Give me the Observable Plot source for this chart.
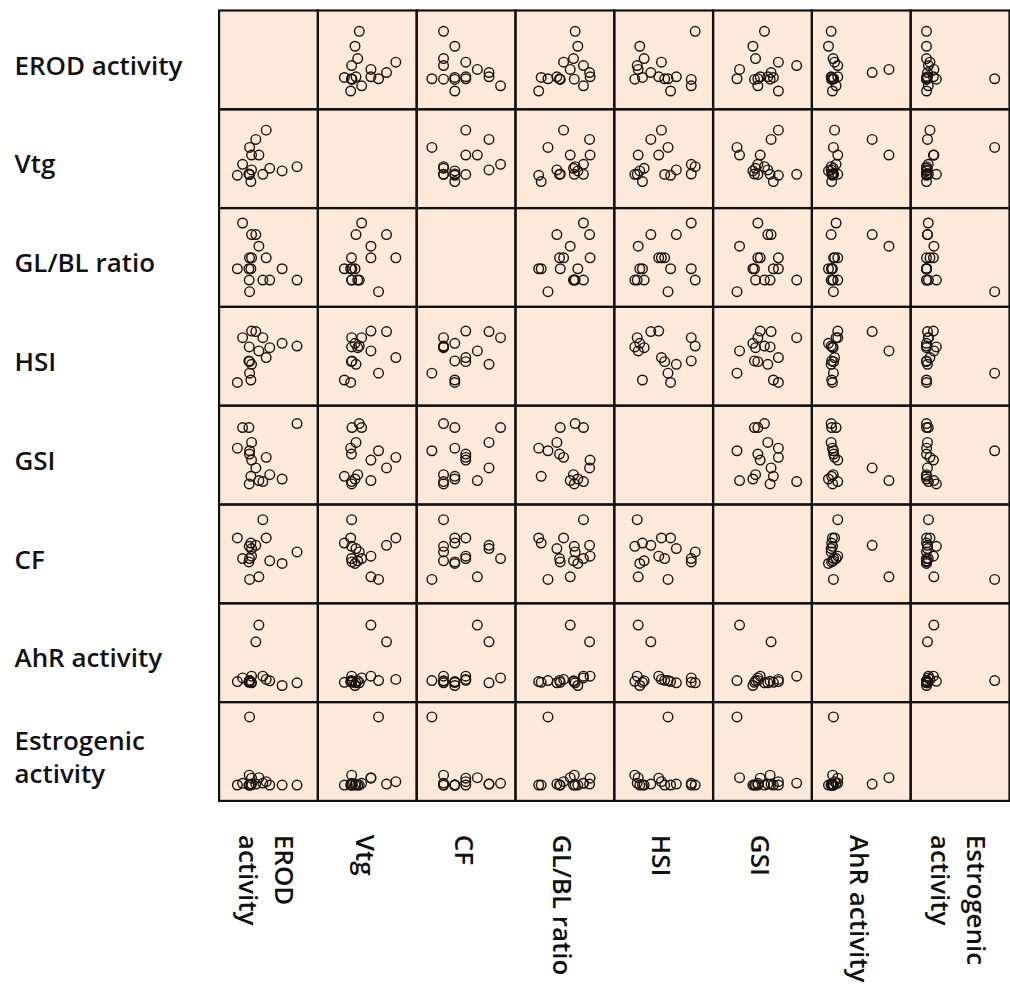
<!DOCTYPE html>
<html>
<head>
<meta charset="utf-8">
<script src="https://cdn.jsdelivr.net/npm/d3@7"></script>
<script src="https://cdn.jsdelivr.net/npm/@observablehq/plot@0.6"></script>
<style>
html, body { margin: 0; padding: 0; background: #ffffff; overflow: hidden; }
#chart { position: absolute; left: 0; top: 0; }
</style>
</head>
<body>
<div id="chart"></div>
<script>
// Labels as printed (rows on the left, columns underneath)
const rowLabels = ["EROD activity", "Vtg", "GL/BL ratio", "HSI", "GSI", "CF", "AhR activity", "Estrogenic\nactivity"];
const colLabels = ["EROD\nactivity", "Vtg", "CF", "GL/BL ratio", "HSI", "GSI", "AhR activity", "Estrogenic\nactivity"];

// 16 samples, each variable in relative units (0–100 of a panel)
const erod  = [78.9, 63.8, 51.3, 44.3, 40.3, 47.7, 37.2, 32.2, 30.5, 30.2, 30.8, 32.9, 32.9, 30.9, 23.8, 18.5];
const vtg   = [41.9, 37.6, 40.3, 34.2, 53.7, 78.9, 69.5, 26.8, 34.2, 34.5, 34.0, 38.6, 53.7, 61.4, 44.3, 33.2];
const var3  = [27.2, 38.6, 27.2, 27.2, 61.4, 49.7, 73.2, 38.6, 27.2, 38.6, 49.7, 73.2, 49.7, 15.4, 84.9, 38.6];
const var4  = [60.4, 63.1, 58.7, 68.8, 55.4, 48.7, 75.0, 26.0, 59.5, 45.3, 44.6, 41.9, 75.5, 32.9, 68.8, 23.5];
const var5  = [81.9, 25.8, 30.2, 23.2, 24.2, 47.7, 37.0, 28.5, 20.8, 77.9, 51.0, 62.8, 45.0, 54.4, 77.9, 57.0];
const var6  = [52.0, 40.3, 43.0, 84.6, 26.8, 66.1, 58.7, 61.0, 57.7, 41.9, 45.3, 55.4, 47.7, 24.2, 45.3, 66.1];
const ahr   = [19.5, 16.8, 21.5, 26.2, 78.0, 23.0, 61.0, 20.0, 21.0, 20.0, 22.0, 19.5, 26.2, 21.8, 24.5, 20.8];
const estro = [16.0, 16.0, 16.0, 18.0, 23.5, 19.5, 17.0, 16.0, 26.0, 16.0, 16.0, 17.0, 23.0, 85.0, 17.8, 16.1];

const variables = [erod, vtg, var3, var4, var5, var6, ahr, estro];
const idx = d3.range(variables.length);

// build the tables the library needs
const cells = idx.flatMap(r => idx.map(c => ({r, c})));
const points = [];
for (const r of idx) for (const c of idx) {
  if (r === c) continue;
  variables[c].forEach((v, k) => points.push({r, c, x: v, y: variables[r][k]}));
}

const bg = "#fce9da";
const ink = "#1a1410";

const chart = Plot.plot({
  width: 1012,
  height: 990,
  marginLeft: 218,
  marginRight: 0,
  marginTop: 10,
  marginBottom: 188,
  style: {fontFamily: "'Open Sans', sans-serif", background: "#ffffff", overflow: "visible"},
  x: {domain: [0, 100], axis: null},
  y: {domain: [0, 100], axis: null},
  fx: {domain: idx, padding: 0},
  fy: {domain: idx, padding: 0},
  marks: [
    Plot.rect(cells, {fx: "c", fy: "r", fill: bg}),
    Plot.dot(points, {fx: "c", fy: "r", x: "x", y: "y", r: 4.8, stroke: ink, strokeWidth: 1.4, fill: "none"}),
    Plot.frame({stroke: "#111111", strokeWidth: 2.2}),
    Plot.axisFy({
      anchor: "left", label: null, tickSize: 0, tickPadding: 0,
      tickFormat: i => rowLabels[i],
      textAnchor: "start", dx: -205, dy: 4,
      fontSize: 26, fontWeight: 600, lineHeight: 1.28, fill: "#111111"
    }),
    Plot.axisFx({
      anchor: "bottom", label: null, tickSize: 0, tickPadding: 0,
      tickFormat: i => colLabels[i],
      rotate: 90, textAnchor: "start", lineAnchor: "middle", dy: 34,
      fontSize: 26, fontWeight: 600, lineHeight: 1.38, fill: "#111111"
    })
  ]
});
document.getElementById("chart").appendChild(chart);
</script>
</body>
</html>
